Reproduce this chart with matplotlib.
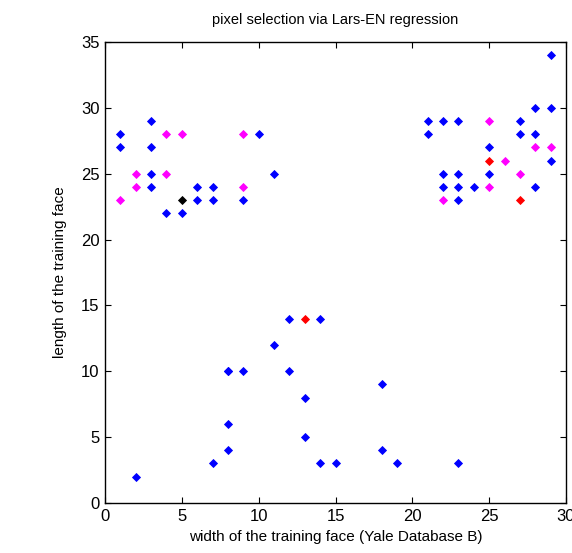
import matplotlib
matplotlib.use("Agg")
import matplotlib.pyplot as plt

# puntos seleccionados (x = ancho, y = largo)
azul_x = [1, 1, 3, 3, 3, 3, 4, 5, 6, 6, 7, 7, 9, 10, 11,
          21, 21, 22, 22, 22, 23, 23, 23, 23, 24, 25, 25, 27, 27, 28, 28, 28, 29, 29, 29,
          2, 7, 8, 8, 8, 8, 9, 11, 12, 12, 13, 13, 14, 14, 15, 18, 18, 19, 23]
azul_y = [28, 27, 29, 27, 25, 24, 22, 22, 24, 23, 24, 23, 23, 28, 25,
          29, 28, 29, 25, 24, 29, 25, 24, 23, 24, 27, 25, 29, 28, 30, 28, 24, 34, 30, 26,
          2, 3, 10, 6, 4, 10, 10, 12, 14, 10, 8, 5, 14, 3, 3, 9, 4, 3, 3]

magenta_x = [1, 2, 2, 4, 4, 5, 9, 9, 22, 25, 25, 26, 27, 28, 29]
magenta_y = [23, 25, 24, 28, 25, 28, 28, 24, 23, 29, 24, 26, 25, 27, 27]

rojo_x = [13, 25, 27]
rojo_y = [14, 26, 23]

negro_x = [5]
negro_y = [23]

fig = plt.figure(figsize=(5.72, 5.53), dpi=100)
ax = fig.add_axes([105 / 572, 50 / 553, 461 / 572, 461 / 553])

estilo = dict(linestyle="none", marker="D", markersize=3.6, markeredgewidth=0.6)
ax.plot(azul_x, azul_y, color="#0000ff", **estilo)
ax.plot(magenta_x, magenta_y, color="#ff00ff", **estilo)
ax.plot(rojo_x, rojo_y, color="#ff0000", **estilo)
ax.plot(negro_x, negro_y, color="#000000", **estilo)

ax.set_xlim(0, 30)
ax.set_ylim(0, 35)
ax.set_xticks(range(0, 31, 5))
ax.set_yticks(range(0, 36, 5))
ax.tick_params(direction="in", top=True, right=True, labelsize=12, length=4, pad=4)
for s in ax.spines.values():
    s.set_linewidth(1.0)

fuente = "Liberation Sans"
for lab in ax.get_xticklabels() + ax.get_yticklabels():
    lab.set_fontfamily(fuente)

ax.set_title("pixel selection via Lars-EN regression", fontsize=10.5, family=fuente, pad=13)
ax.set_xlabel("width of the training face (Yale Database B)", fontsize=11, family=fuente, labelpad=5)
ax.set_ylabel("length of the training face", fontsize=11, family=fuente, labelpad=10)

fig.savefig("out.png", dpi=100)
